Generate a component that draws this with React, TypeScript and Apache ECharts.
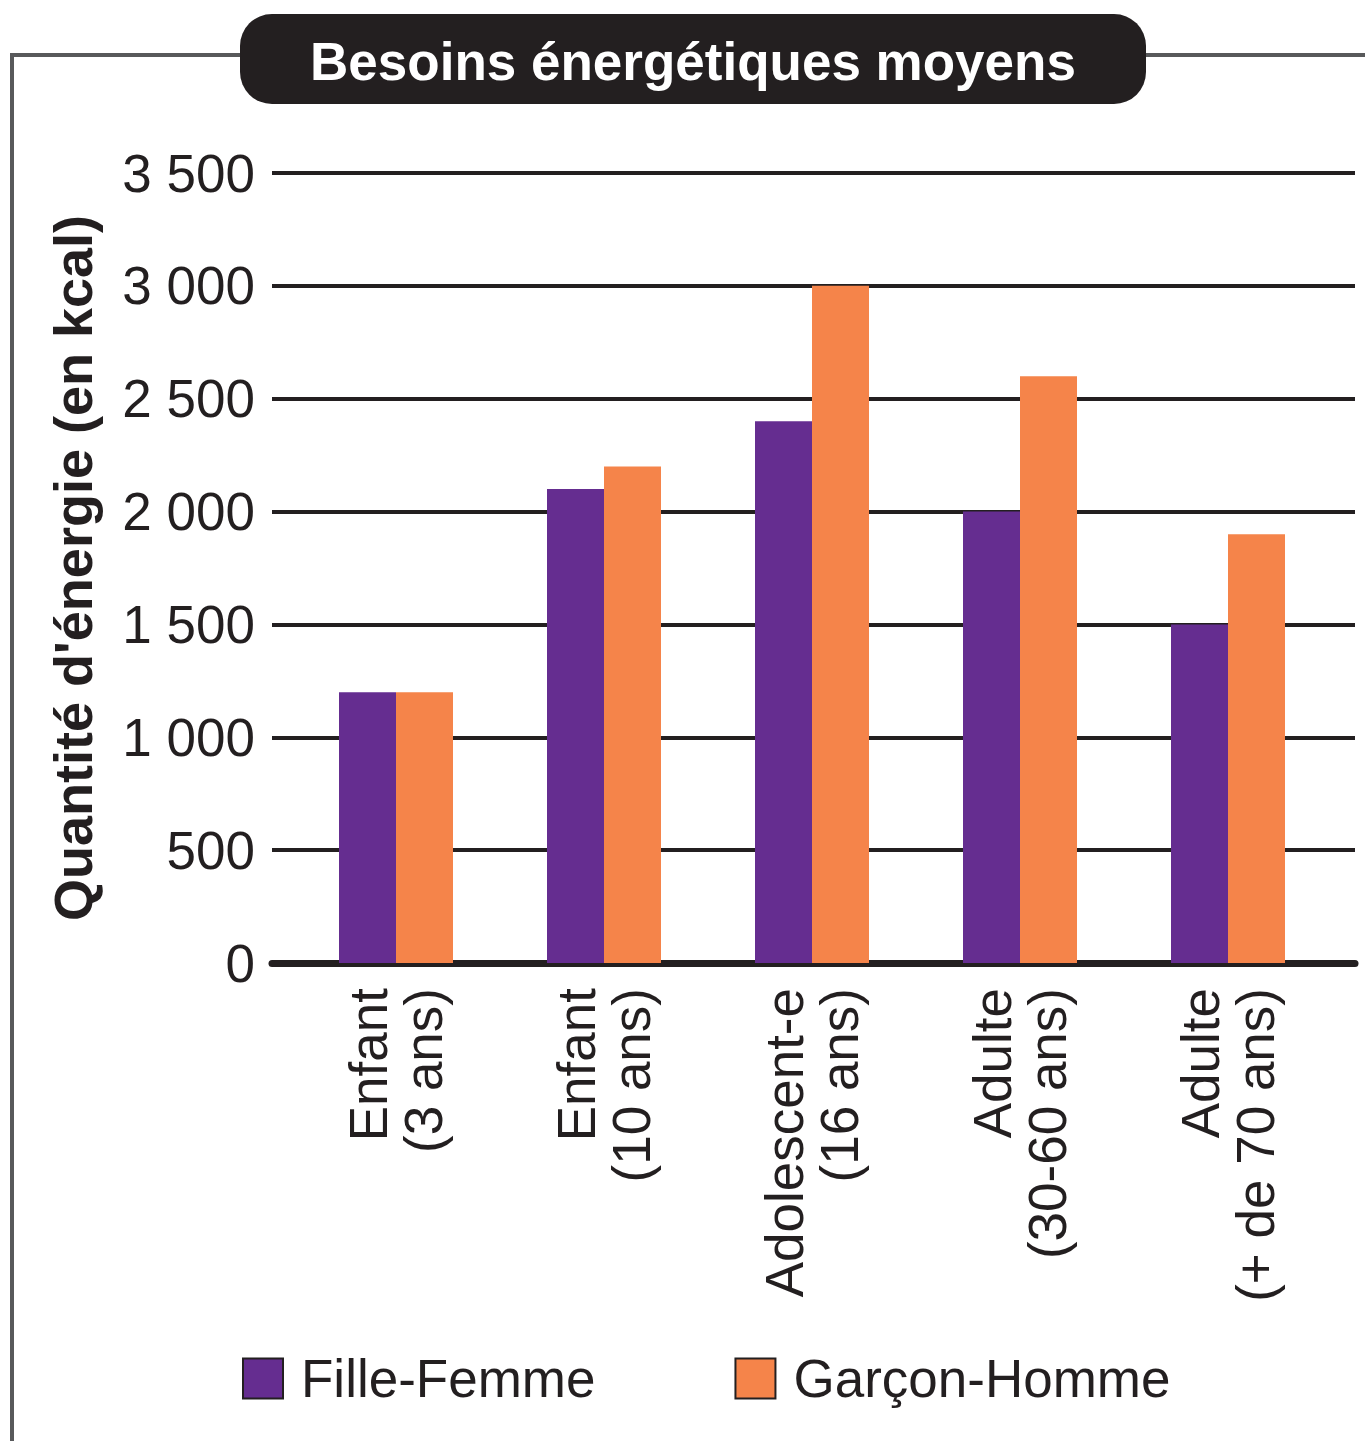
import React, { useEffect, useRef } from "react";
import * as echarts from "echarts";

const categories = [
  "Enfant\n(3 ans)",
  "Enfant\n(10 ans)",
  "Adolescent-e\n(16 ans)",
  "Adulte\n(30-60 ans)",
  "Adulte\n(+ de 70 ans)",
];
const filleFemme = [1200, 2100, 2400, 2000, 1500];
const garconHomme = [1200, 2200, 3000, 2600, 1900];
const seriesNames = ["Fille-Femme", "Garçon-Homme"];
const yTicks = { min: 0, max: 3500, interval: 500 };
const titleText = "Besoins énergétiques moyens";
const yAxisName = "Quantité d'énergie (en kcal)";

const FONT = '"Liberation Sans", Arial, Helvetica, sans-serif';
const PURPLE = "#652d90";
const ORANGE = "#f5844a";
const DARK = "#231f20";

export default function App() {
  const ref = useRef<HTMLDivElement>(null);
  useEffect(() => {
    if (!ref.current) return;
    const chart = echarts.init(ref.current, undefined, { renderer: "svg" });
    const fmt = (v: number) =>
      String(v).replace(/\B(?=(\d{3})+(?!\d))/g, " ");
    chart.setOption({
      animation: false,
      backgroundColor: "#ffffff",
      textStyle: { fontFamily: FONT },
      grid: [
        { left: 272, right: 10, top: 173, bottom: 478 },
        { left: 292, right: 33, top: 173, bottom: 478 },
      ],
      xAxis: [
        {
          type: "value",
          gridIndex: 0,
          min: 0,
          max: 1,
          axisLine: { show: true, lineStyle: { color: DARK, width: 7 } },
          axisTick: { show: false },
          axisLabel: { show: false },
          splitLine: { show: false },
        },
        {
          type: "category",
          gridIndex: 1,
          data: categories,
          axisLine: { show: false },
          axisTick: { show: false },
          axisLabel: {
            interval: 0,
            rotate: 90,
            margin: 25,
            fontSize: 53,
            lineHeight: 55,
            color: DARK,
            fontFamily: FONT,
          },
        },
      ],
      yAxis: [
        {
          type: "value",
          gridIndex: 0,
          min: yTicks.min,
          max: yTicks.max,
          interval: yTicks.interval,
          name: yAxisName,
          nameLocation: "middle",
          nameGap: 172,
          nameTextStyle: {
            fontSize: 54,
            fontWeight: "bold",
            color: DARK,
            fontFamily: FONT,
          },
          axisLine: { show: false },
          axisTick: { show: false },
          axisLabel: {
            formatter: fmt,
            fontSize: 53,
            margin: 17,
            color: DARK,
            fontFamily: FONT,
          },
          splitLine: { show: true, lineStyle: { color: DARK, width: 4 } },
        },
        {
          type: "value",
          gridIndex: 1,
          min: yTicks.min,
          max: yTicks.max,
          interval: yTicks.interval,
          show: false,
          splitLine: { show: false },
        },
      ],
      legend: {
        left: 242,
        top: 1352,
        padding: 0,
        itemWidth: 40,
        itemHeight: 40,
        itemGap: 139,
        icon: "rect",
        itemStyle: { borderColor: DARK, borderWidth: 2 },
        textStyle: {
          fontSize: 53,
          color: DARK,
          fontFamily: FONT,
          padding: [0, 0, 0, 13],
        },
        data: seriesNames,
      },
      series: [
        {
          name: seriesNames[0],
          type: "bar",
          xAxisIndex: 1,
          yAxisIndex: 1,
          data: filleFemme,
          barWidth: 57,
          barGap: "0%",
          itemStyle: { color: PURPLE },
        },
        {
          name: seriesNames[1],
          type: "bar",
          xAxisIndex: 1,
          yAxisIndex: 1,
          data: garconHomme,
          barWidth: 57,
          barGap: "0%",
          itemStyle: { color: ORANGE },
        },
      ],
      graphic: [
        {
          type: "polyline",
          shape: {
            points: [
              [12, 1441],
              [12, 55],
              [240, 55],
            ],
          },
          style: { stroke: "#58595b", lineWidth: 4, fill: null },
        },
        {
          type: "line",
          shape: { x1: 1140, y1: 55, x2: 1365, y2: 55 },
          style: { stroke: "#58595b", lineWidth: 4 },
        },
        {
          type: "rect",
          shape: { x: 240, y: 14, width: 906, height: 90, r: 32 },
          style: { fill: DARK },
        },
        {
          type: "text",
          x: 693,
          y: 61,
          style: {
            text: titleText,
            fill: "#ffffff",
            fontSize: 53,
            fontWeight: "bold",
            fontFamily: FONT,
            align: "center",
            verticalAlign: "middle",
          },
        },
      ],
    });
    return () => chart.dispose();
  }, []);
  return (
    <div
      ref={ref}
      style={{ position: "absolute", left: 0, top: 0, width: 1365, height: 1441 }}
    />
  );
}
